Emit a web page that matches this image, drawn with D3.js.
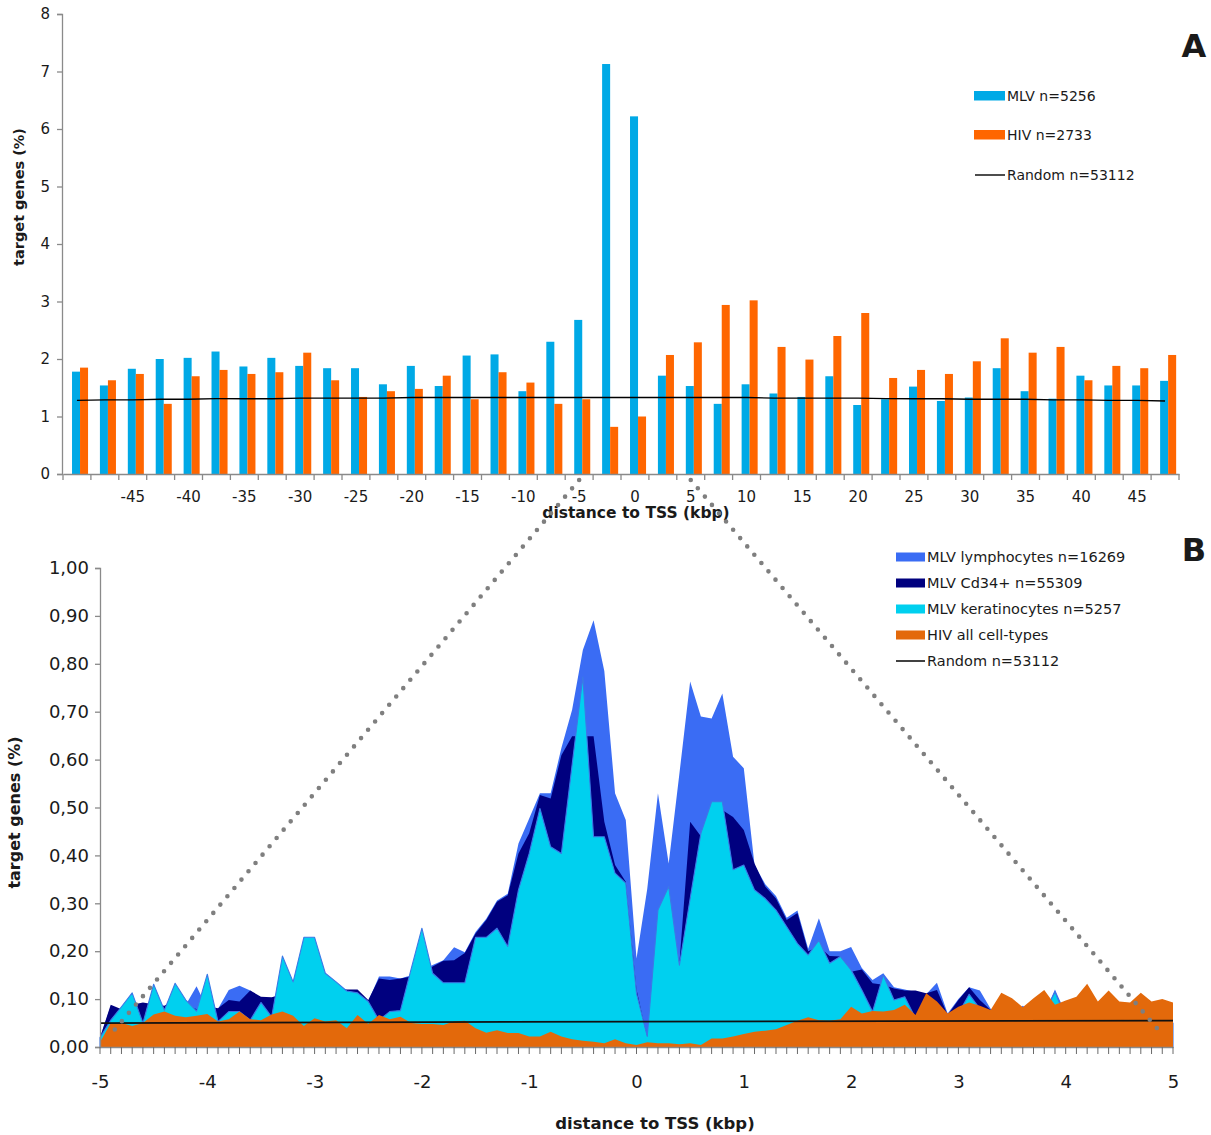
<!DOCTYPE html>
<html>
<head>
<meta charset="utf-8">
<script src="https://cdn.jsdelivr.net/npm/d3@7"></script>
<style>
  body { margin: 0; background: #ffffff; }
  svg { display: block; }
  text { font-family: "DejaVu Sans", Verdana, sans-serif; fill: #1a1a1a; }
</style>
</head>
<body>
<svg id="chart" width="1211" height="1135"></svg>
<script>
// ---------- Panel A: integration frequency per 2.5 kbp bin, +/-50 kbp around TSS ----------
const binStarts = [-50, -47.5, -45, -42.5, -40, -37.5, -35, -32.5, -30, -27.5,
                   -25, -22.5, -20, -17.5, -15, -12.5, -10, -7.5, -5, -2.5,
                   0, 2.5, 5, 7.5, 10, 12.5, 15, 17.5, 20, 22.5,
                   25, 27.5, 30, 32.5, 35, 37.5, 40, 42.5, 45, 47.5];
const mlvPct = [1.78, 1.54, 1.83, 2.00, 2.02, 2.13, 1.87, 2.02, 1.88, 1.84,
                1.84, 1.56, 1.88, 1.53, 2.06, 2.08, 1.44, 2.30, 2.68, 7.13,
                6.22, 1.71, 1.53, 1.22, 1.56, 1.40, 1.34, 1.70, 1.20, 1.30,
                1.52, 1.27, 1.33, 1.84, 1.44, 1.31, 1.71, 1.54, 1.54, 1.62];
const hivPct = [1.85, 1.63, 1.74, 1.22, 1.70, 1.81, 1.74, 1.77, 2.11, 1.63,
                1.34, 1.44, 1.48, 1.71, 1.30, 1.77, 1.59, 1.22, 1.30, 0.82,
                1.00, 2.07, 2.29, 2.94, 3.02, 2.21, 1.99, 2.40, 2.80, 1.67,
                1.81, 1.74, 1.96, 2.36, 2.11, 2.21, 1.63, 1.88, 1.84, 2.07];
const randomPctA = [1.28, 1.29, 1.29, 1.30, 1.30, 1.31, 1.31, 1.31, 1.32, 1.32,
                    1.32, 1.32, 1.33, 1.33, 1.33, 1.33, 1.33, 1.33, 1.33, 1.33,
                    1.33, 1.33, 1.33, 1.33, 1.33, 1.32, 1.32, 1.32, 1.32, 1.31,
                    1.31, 1.31, 1.30, 1.30, 1.30, 1.29, 1.29, 1.28, 1.28, 1.27];
const tickLabelsA = [-45, -40, -35, -30, -25, -20, -15, -10, -5, 0, 5, 10, 15, 20, 25, 30, 35, 40, 45];
const yTicksA = [0, 1, 2, 3, 4, 5, 6, 7, 8];
const legendA = ["MLV n=5256", "HIV n=2733", "Random n=53112"];

// ---------- Panel B: integration frequency per 100 bp, +/-5 kbp around TSS ----------
const posKbp = [-5.0, -4.9, -4.8, -4.7, -4.6, -4.5, -4.4, -4.3, -4.2, -4.1,
                -4.0, -3.9, -3.8, -3.7, -3.6, -3.5, -3.4, -3.3, -3.2, -3.1,
                -3.0, -2.9, -2.8, -2.7, -2.6, -2.5, -2.4, -2.3, -2.2, -2.1,
                -2.0, -1.9, -1.8, -1.7, -1.6, -1.5, -1.4, -1.3, -1.2, -1.1,
                -1.0, -0.9, -0.8, -0.7, -0.6, -0.5, -0.4, -0.3, -0.2, -0.1,
                0.0, 0.1, 0.2, 0.3, 0.4, 0.5, 0.6, 0.7, 0.8, 0.9,
                1.0, 1.1, 1.2, 1.3, 1.4, 1.5, 1.6, 1.7, 1.8, 1.9,
                2.0, 2.1, 2.2, 2.3, 2.4, 2.5, 2.6, 2.7, 2.8, 2.9,
                3.0, 3.1, 3.2, 3.3, 3.4, 3.5, 3.6, 3.7, 3.8, 3.9,
                4.0, 4.1, 4.2, 4.3, 4.4, 4.5, 4.6, 4.7, 4.8, 4.9, 5.0];
const mlvLymphocytes = [
  0.020, 0.085, 0.075, 0.085, 0.090, 0.085, 0.085, 0.095, 0.088, 0.127,
  0.080, 0.080, 0.119, 0.128, 0.118, 0.100, 0.100, 0.105, 0.115, 0.120,
  0.120, 0.120, 0.120, 0.115, 0.115, 0.095, 0.147, 0.147, 0.143, 0.150,
  0.160, 0.171, 0.181, 0.208, 0.198, 0.240, 0.268, 0.306, 0.320, 0.425,
  0.477, 0.530, 0.530, 0.624, 0.704, 0.829, 0.891, 0.785, 0.530, 0.474,
  0.185, 0.330, 0.530, 0.383, 0.571, 0.763, 0.690, 0.686, 0.738, 0.606,
  0.582, 0.380, 0.340, 0.315, 0.270, 0.285, 0.205, 0.269, 0.200, 0.200,
  0.209, 0.165, 0.140, 0.154, 0.125, 0.120, 0.115, 0.110, 0.134, 0.070,
  0.100, 0.125, 0.118, 0.080, 0.070, 0.070, 0.086, 0.070, 0.070, 0.120,
  0.070, 0.060, 0.060, 0.060, 0.060, 0.060, 0.060, 0.060, 0.060, 0.060, 0.060];
const mlvCd34 = [
  0.020, 0.088, 0.079, 0.088, 0.093, 0.089, 0.086, 0.100, 0.090, 0.079,
  0.085, 0.081, 0.098, 0.095, 0.118, 0.105, 0.104, 0.110, 0.120, 0.130,
  0.130, 0.130, 0.125, 0.120, 0.120, 0.098, 0.143, 0.140, 0.143, 0.147,
  0.155, 0.168, 0.180, 0.181, 0.196, 0.237, 0.265, 0.303, 0.317, 0.404,
  0.446, 0.526, 0.519, 0.609, 0.649, 0.649, 0.649, 0.470, 0.380, 0.345,
  0.120, 0.020, 0.168, 0.272, 0.175, 0.470, 0.440, 0.450, 0.495, 0.480,
  0.453, 0.383, 0.335, 0.310, 0.265, 0.280, 0.200, 0.210, 0.190, 0.189,
  0.157, 0.162, 0.133, 0.130, 0.122, 0.118, 0.118, 0.112, 0.119, 0.067,
  0.098, 0.125, 0.098, 0.077, 0.070, 0.070, 0.070, 0.070, 0.070, 0.070,
  0.060, 0.060, 0.060, 0.060, 0.060, 0.060, 0.060, 0.060, 0.060, 0.060, 0.060];
const mlvKeratinocytes = [
  0.020, 0.056, 0.084, 0.113, 0.050, 0.131, 0.077, 0.133, 0.098, 0.075,
  0.152, 0.053, 0.074, 0.074, 0.056, 0.093, 0.063, 0.190, 0.136, 0.229,
  0.229, 0.154, 0.136, 0.117, 0.113, 0.095, 0.056, 0.074, 0.076, 0.163,
  0.248, 0.154, 0.134, 0.134, 0.134, 0.229, 0.229, 0.248, 0.210, 0.328,
  0.404, 0.498, 0.418, 0.404, 0.589, 0.773, 0.439, 0.439, 0.363, 0.342,
  0.112, 0.022, 0.286, 0.335, 0.171, 0.310, 0.446, 0.512, 0.512, 0.370,
  0.380, 0.328, 0.310, 0.286, 0.251, 0.216, 0.192, 0.223, 0.175, 0.189,
  0.161, 0.119, 0.074, 0.150, 0.098, 0.105, 0.060, 0.060, 0.060, 0.050,
  0.070, 0.110, 0.080, 0.060, 0.050, 0.060, 0.070, 0.060, 0.070, 0.115,
  0.060, 0.050, 0.050, 0.050, 0.050, 0.050, 0.050, 0.050, 0.050, 0.050, 0.050];
const hivAllCells = [
  0.010, 0.050, 0.050, 0.044, 0.050, 0.068, 0.074, 0.065, 0.062, 0.065,
  0.069, 0.053, 0.058, 0.074, 0.058, 0.056, 0.068, 0.074, 0.065, 0.044,
  0.060, 0.053, 0.056, 0.039, 0.067, 0.048, 0.067, 0.058, 0.063, 0.050,
  0.048, 0.048, 0.046, 0.053, 0.055, 0.039, 0.030, 0.035, 0.029, 0.029,
  0.022, 0.022, 0.032, 0.022, 0.016, 0.013, 0.011, 0.008, 0.016, 0.008,
  0.004, 0.010, 0.008, 0.008, 0.006, 0.008, 0.004, 0.018, 0.018, 0.022,
  0.027, 0.032, 0.034, 0.037, 0.046, 0.055, 0.062, 0.056, 0.055, 0.058,
  0.084, 0.070, 0.075, 0.074, 0.077, 0.088, 0.067, 0.112, 0.095, 0.070,
  0.084, 0.093, 0.086, 0.077, 0.113, 0.102, 0.083, 0.102, 0.119, 0.088,
  0.097, 0.105, 0.132, 0.095, 0.118, 0.095, 0.093, 0.113, 0.095, 0.100, 0.093];
const randomKbp = [-5, 0, 5];
const randomPctB = [0.050, 0.053, 0.055];
const xTicksB = [-5, -4, -3, -2, -1, 0, 1, 2, 3, 4, 5];
const yTicksB = [0, 0.1, 0.2, 0.3, 0.4, 0.5, 0.6, 0.7, 0.8, 0.9, 1.0];
const legendB = ["MLV lymphocytes n=16269", "MLV Cd34+ n=55309", "MLV keratinocytes n=5257",
                 "HIV all cell-types", "Random n=53112"];

// ---------- colours ----------
const C = {
  mlv: "#00a9e6", hiv: "#ff6600",
  lymph: "#3a6cf4", cd34: "#00007f", kera: "#00d0ef", hivB: "#e3690b",
  keraEdge: "#3c78e6", axis: "#8a8a8a", dots: "#7f7f7f"
};

// plain hyphen-minus for negative labels
const hyphenInt = d => String(d);

const svg = d3.select("#chart");
svg.append("rect").attr("width", 1211).attr("height", 1135).attr("fill", "#fff");

// ================= Panel A =================
const xA = d3.scaleBand().domain(binStarts).range([63, 1179]);
const xSub = d3.scaleBand().domain(["MLV", "HIV"]).range([0, xA.bandwidth()])
  .paddingInner(0).paddingOuter(0.74).align(0.76);
const yA = d3.scaleLinear().domain([0, 8]).range([474, 14]);

const gA = svg.append("g");

// bars
const barsA = gA.append("g");
binStarts.forEach((b, i) => {
  [["MLV", mlvPct[i], C.mlv], ["HIV", hivPct[i], C.hiv]].forEach(([k, v, col]) => {
    barsA.append("rect")
      .attr("x", xA(b) + xSub(k))
      .attr("y", yA(v))
      .attr("width", xSub.bandwidth())
      .attr("height", yA(0) - yA(v))
      .attr("fill", col);
  });
});

// random expectation line
gA.append("path")
  .datum(binStarts.map((b, i) => [xA(b) + xA.bandwidth() / 2, randomPctA[i]]))
  .attr("fill", "none").attr("stroke", "#000").attr("stroke-width", 1.4)
  .attr("d", d3.line().x(d => d[0]).y(d => yA(d[1])));

// y axis
const yAxisA = gA.append("g").attr("transform", `translate(${xA.range()[0] - 1},0)`)
  .call(d3.axisLeft(yA).tickValues(yTicksA).tickSize(5).tickPadding(7).tickFormat(hyphenInt));
yAxisA.select(".domain").attr("stroke", C.axis).attr("stroke-width", 1.3);
yAxisA.selectAll(".tick line").attr("stroke", C.axis).attr("stroke-width", 1.3);
yAxisA.selectAll(".tick text").attr("font-size", 15).attr("font-family", "DejaVu Sans").attr("fill", "#1a1a1a");

// x axis: labels at bin centres, ticks at bin boundaries
const xAxisA = gA.append("g").attr("transform", `translate(0,${yA(0)})`)
  .call(d3.axisBottom(xA).tickValues(tickLabelsA).tickSize(0).tickPadding(17).tickFormat(hyphenInt));
xAxisA.select(".domain").attr("stroke", C.axis).attr("stroke-width", 1.3);
xAxisA.selectAll(".tick text").attr("font-size", 15).attr("font-family", "DejaVu Sans").attr("fill", "#1a1a1a");
const boundsA = binStarts.map(b => xA(b)).concat([xA(binStarts[binStarts.length - 1]) + xA.bandwidth()]);
xAxisA.selectAll("line.bnd").data(boundsA).join("line").attr("class", "bnd")
  .attr("x1", d => d).attr("x2", d => d).attr("y1", 0).attr("y2", 6)
  .attr("stroke", C.axis).attr("stroke-width", 1.3);

// titles
gA.append("text").attr("transform", `translate(24,${(yA(0) + yA(8)) / 2 - 47}) rotate(-90)`)
  .attr("text-anchor", "middle").attr("font-weight", "bold").attr("font-size", 14.5)
  .text("target genes (%)");
gA.append("text").attr("x", 636).attr("y", 518).attr("text-anchor", "middle")
  .attr("font-weight", "bold").attr("font-size", 15.5).text("distance to TSS (kbp)");
gA.append("text").attr("x", 1194).attr("y", 57).attr("text-anchor", "middle")
  .attr("font-family", "Liberation Sans, Arial, sans-serif").attr("font-weight", "bold")
  .attr("font-size", 32).attr("fill", "#000").text("A");

// legend A
const legA = gA.append("g");
const legAy = [96, 135, 175];
legendA.forEach((lab, i) => {
  if (i < 2) {
    legA.append("rect").attr("x", 974).attr("y", legAy[i] - 5).attr("width", 31).attr("height", 9.5)
      .attr("fill", i === 0 ? C.mlv : C.hiv);
  } else {
    legA.append("line").attr("x1", 975).attr("x2", 1005).attr("y1", legAy[i]).attr("y2", legAy[i])
      .attr("stroke", "#000").attr("stroke-width", 1.4);
  }
  legA.append("text").attr("x", 1007).attr("y", legAy[i] + 5.2).attr("font-size", 14).text(lab);
});

// ================= Panel B =================
const xB = d3.scaleLinear().domain([-5, 5]).range([100, 1173]);
const yB = d3.scaleLinear().domain([0, 1]).range([1047, 568]);
const gB = svg.append("g");

const areaB = vals => d3.area()
  .x((d, i) => xB(posKbp[i])).y0(yB(0)).y1((d, i) => yB(vals[i]))(vals);

// overlapping areas, back to front
gB.append("path").attr("d", areaB(mlvLymphocytes)).attr("fill", C.lymph);
gB.append("path").attr("d", areaB(mlvCd34)).attr("fill", C.cd34);
gB.append("path").attr("d", areaB(mlvKeratinocytes)).attr("fill", C.kera)
  .attr("stroke", C.keraEdge).attr("stroke-width", 1.1).attr("stroke-linejoin", "round");
gB.append("path").attr("d", areaB(hivAllCells)).attr("fill", C.hivB);

// random expectation
gB.append("path")
  .datum(randomKbp.map((k, i) => [k, randomPctB[i]]))
  .attr("fill", "none").attr("stroke", "#111").attr("stroke-width", 1.8)
  .attr("d", d3.line().x(d => xB(d[0])).y(d => yB(d[1])));

const fmtComma = d3.formatLocale({ decimal: ",", thousands: ".", grouping: [3], currency: ["", ""] }).format(".2f");

const yAxisB = gB.append("g").attr("transform", `translate(${xB(-5)},0)`)
  .call(d3.axisLeft(yB).tickValues(yTicksB).tickSize(5).tickPadding(6).tickFormat(fmtComma));
yAxisB.select(".domain").attr("stroke", C.axis).attr("stroke-width", 1.3);
yAxisB.selectAll(".tick line").attr("stroke", C.axis).attr("stroke-width", 1.3);
yAxisB.selectAll(".tick text").attr("font-size", 18).attr("font-family", "DejaVu Sans").attr("fill", "#1a1a1a");

const xAxisB = gB.append("g").attr("transform", `translate(0,${yB(0)})`)
  .call(d3.axisBottom(xB).tickValues(xTicksB).tickSize(0).tickPadding(28).tickFormat(hyphenInt));
xAxisB.select(".domain").attr("stroke", C.axis).attr("stroke-width", 1.3);
xAxisB.selectAll(".tick text").attr("font-size", 18).attr("font-family", "DejaVu Sans").attr("fill", "#1a1a1a");
xAxisB.selectAll("line.minor").data(posKbp).join("line").attr("class", "minor")
  .attr("x1", d => xB(d)).attr("x2", d => xB(d)).attr("y1", 0).attr("y2", 7)
  .attr("stroke", "#6a6a6a").attr("stroke-width", 1);

gB.append("text").attr("transform", `translate(20,${(yB(0) + yB(1)) / 2 + 5}) rotate(-90)`)
  .attr("text-anchor", "middle").attr("font-weight", "bold").attr("font-size", 16)
  .text("target genes (%)");
gB.append("text").attr("x", 655).attr("y", 1129).attr("text-anchor", "middle")
  .attr("font-weight", "bold").attr("font-size", 16.5).text("distance to TSS (kbp)");
gB.append("text").attr("x", 1194).attr("y", 561).attr("text-anchor", "middle")
  .attr("font-family", "Liberation Sans, Arial, sans-serif").attr("font-weight", "bold")
  .attr("font-size", 32).attr("fill", "#000").text("B");

// legend B
const legB = gB.append("g");
const legBcol = [C.lymph, C.cd34, C.kera, C.hivB];
legendB.forEach((lab, i) => {
  const cy = 557 + i * 26;
  if (i < 4) {
    legB.append("rect").attr("x", 896).attr("y", cy - 4.5).attr("width", 29).attr("height", 9)
      .attr("fill", legBcol[i]);
  } else {
    legB.append("line").attr("x1", 896).attr("x2", 925).attr("y1", cy).attr("y2", cy)
      .attr("stroke", "#111").attr("stroke-width", 1.6);
  }
  legB.append("text").attr("x", 927).attr("y", cy + 5.3).attr("font-size", 14.5).text(lab);
});

// ================= zoom connectors (A: -5/+5 kbp  ->  B: -5/+5 kbp) =================
[[-5, -5], [5, 5]].forEach(([ka, kb]) => {
  const x0 = xA(ka) + xA.bandwidth() / 2, y0 = yA(0) + 6;
  const x1 = xB(kb), y1 = yB(0);
  const t = 0.975;
  svg.append("line")
    .attr("x1", x0).attr("y1", y0)
    .attr("x2", x0 + (x1 - x0) * t).attr("y2", y0 + (y1 - y0) * t)
    .attr("stroke", C.dots).attr("stroke-width", 4.6)
    .attr("stroke-linecap", "round").attr("stroke-dasharray", "0 10.9");
});
</script>
</body>
</html>
